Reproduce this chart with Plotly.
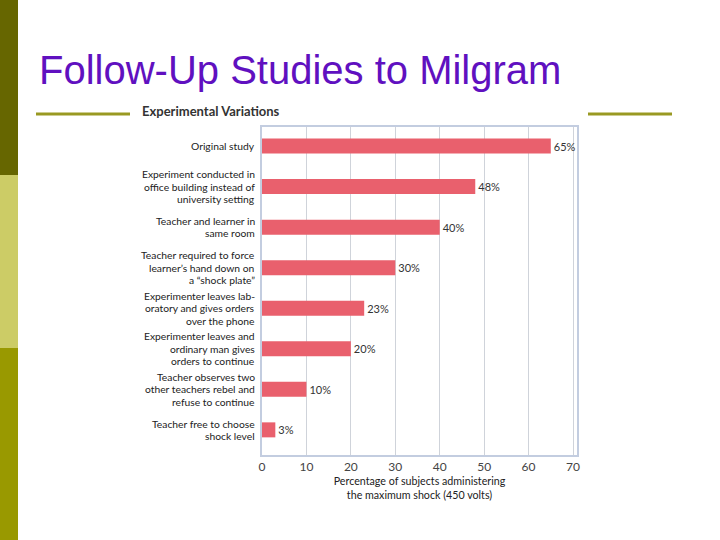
import plotly.graph_objects as go

categories = [
    "Original study",
    "Experiment conducted in<br>office building instead of<br>university setting",
    "Teacher and learner in<br>same room",
    "Teacher required to force<br>learner’s hand down on<br>a “shock plate”",
    "Experimenter leaves lab-<br>oratory and gives orders<br>over the phone",
    "Experimenter leaves and<br>ordinary man gives<br>orders to continue",
    "Teacher observes two<br>other teachers rebel and<br>refuse to continue",
    "Teacher free to choose<br>shock level",
]
percent = [65, 48, 40, 30, 23, 20, 10, 3]
x_ticks = [0, 10, 20, 30, 40, 50, 60, 70]

W, H = 720, 540
L, R, T, B = 262, 577, 127, 455
LABEL_SIZE = 10.3
LINE_H = 12.5


def px(x):
    return (x - L) / (R - L)


def py(y):
    return (B - y) / (B - T)


fig = go.Figure()
fig.add_trace(go.Bar(
    x=percent, y=categories, orientation="h",
    marker=dict(color="#E9606D", line=dict(width=0)),
    text=[f"{v}%" for v in percent], textposition="outside",
    textfont=dict(family="Lato", size=11, color="#333333"),
    cliponaxis=False, hoverinfo="skip",
))

# category labels, one annotation per line so the leading stays tight
for cat in categories:
    lines = cat.split("<br>")
    n = len(lines)
    for i, line in enumerate(lines):
        fig.add_annotation(text=line, xref="paper", yref="y", x=0, y=cat,
                           xanchor="right", yanchor="middle", xshift=-6,
                           yshift=((n - 1) / 2 - i) * LINE_H, showarrow=False,
                           borderpad=0,
                           font=dict(family="Lato", size=LABEL_SIZE, color="#222222"))

# slide decoration: left colour strip
for y0, y1, col in [(0, 175, "#666600"), (175, 348, "#CCCC66"), (348, 540, "#999900")]:
    fig.add_shape(type="rect", xref="paper", yref="paper",
                  x0=px(0), x1=px(18), y0=py(y1), y1=py(y0),
                  fillcolor=col, line_width=0, layer="below")
# olive rules beside the chart heading
for x0, x1, y in [(36, 130, 114), (588, 672, 114)]:
    fig.add_shape(type="line", xref="paper", yref="paper",
                  x0=px(x0), x1=px(x1), y0=py(y), y1=py(y),
                  line=dict(color="#999922", width=3))

fig.add_annotation(text="Follow-Up Studies to Milgram", xref="paper", yref="paper",
                   x=px(37), y=py(70), xanchor="left", yanchor="middle",
                   showarrow=False,
                   font=dict(family="Liberation Sans", size=40, color="#6010C0"))
fig.add_annotation(text="<b>Experimental Variations</b>", xref="paper", yref="paper",
                   x=px(140), y=py(111), xanchor="left", yanchor="middle",
                   showarrow=False,
                   font=dict(family="Lato", size=13, color="#333333"))

fig.update_layout(
    width=W, height=H,
    margin=dict(l=L, r=W - R, t=T, b=H - B),
    paper_bgcolor="white", plot_bgcolor="white",
    showlegend=False, bargap=0.63,
    font=dict(family="Lato", size=11, color="#222222"),
)
fig.update_xaxes(
    range=[0, 70.9], tickvals=x_ticks, showgrid=True, gridcolor="#cfd3da",
    gridwidth=1, zeroline=False, showline=True, mirror=True,
    linecolor="#c3cde0", linewidth=2,
    tickfont=dict(family="Lato", size=12, color="#444444"),
    title=dict(text="Percentage of subjects administering<br>the maximum shock (450 volts)",
               font=dict(family="Lato", size=10.7, color="#222222"), standoff=4),
)
fig.update_yaxes(
    categoryorder="array", categoryarray=categories, range=[7.62, -0.47],
    showgrid=False, showline=True, mirror=True, linecolor="#c3cde0", linewidth=2,
    showticklabels=False,
)

fig.write_html("out.html", config={"displayModeBar": False},
               post_script="document.body.style.margin='0';")
